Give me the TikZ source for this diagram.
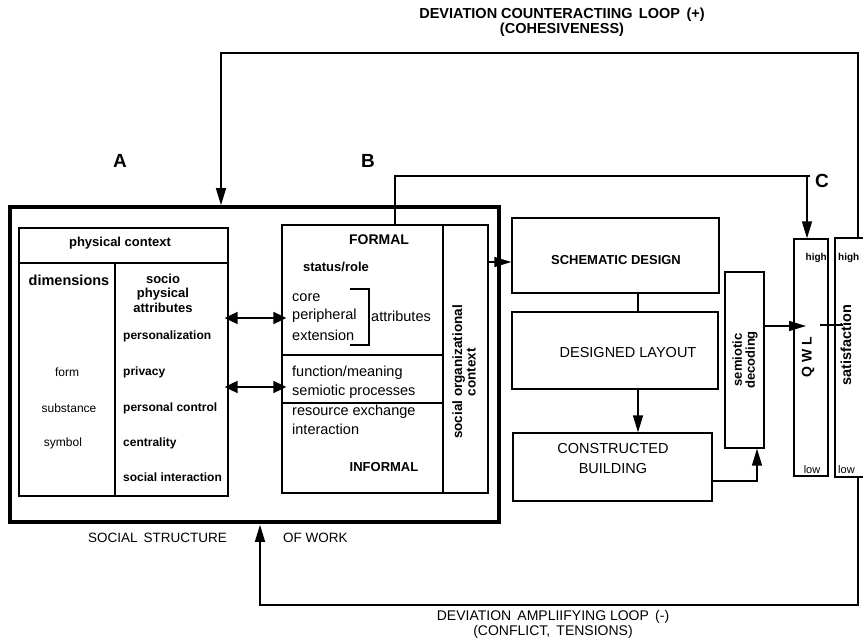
\documentclass[tikz,border=0pt]{standalone}
\usepackage{fontspec}
\setmainfont{Liberation Sans}
\usetikzlibrary{arrows.meta}

\begin{document}
\begin{tikzpicture}[x=1pt,y=-1pt,
  box/.style={draw, line width=1.3pt, rectangle, inner sep=0pt},
  thickbox/.style={draw, line width=3.6pt, rectangle, inner sep=0pt},
  conn/.style={line width=1.4pt},
  tip/.style={conn, -{Triangle[length=17pt,width=10pt]}},
  dbl/.style={line width=1.8pt,
    {Triangle[length=13pt,width=12pt]}-{Triangle[length=13pt,width=12pt]}},
  txt/.style={inner sep=0pt, font=\fontsize{#1}{#1}\selectfont},
  btxt/.style={inner sep=0pt, font=\fontsize{#1}{#1}\selectfont\bfseries},
  vtxt/.style={inner sep=0pt, rotate=90, align=center,
    font=\fontsize{#1}{#1}\selectfont\bfseries},
]
\useasboundingbox (0,0) rectangle (863,643);
\clip (0,0) rectangle (863,643);

% ---------------- boxes ----------------
\node[thickbox, minimum width=489pt, minimum height=315pt] (outer) at (254.5,364.5) {};
\node[box, minimum width=209pt, minimum height=268pt] (physA) at (123.5,362) {};
\node[box, minimum width=206pt, minimum height=268pt] (boxB) at (385,359) {};
\node[box, minimum width=207pt, minimum height=75pt] (schem) at (615.5,255.5) {};
\node[box, minimum width=206pt, minimum height=77pt] (layout) at (615,350.5) {};
\node[box, minimum width=199pt, minimum height=68pt] (built) at (612.5,467) {};
\node[box, minimum width=39pt, minimum height=176pt] (semio) at (744.5,360) {};
\node[box, minimum width=34pt, minimum height=237pt] (qwl) at (811,357.5) {};
\node[box, minimum width=40pt, minimum height=239pt] (satis) at (855,357.5) {};

% ---------------- inner divisions ----------------
\draw[line width=1.2pt] (19,263) -- (228,263);
\draw[line width=1.2pt] (115,263) -- (115,496);
\draw[line width=1.2pt] (443,225) -- (443,493);
\draw[line width=1.2pt] (282,355) -- (443,355);
\draw[line width=1.2pt] (282,403) -- (443,403);
% bracket grouping the attributes
\draw[line width=1.3pt] (350,289) -- (369,289) -- (369,345) -- (350,345);

% ---------------- texts: physical context ----------------
\node[btxt=13] (tPC) at (120,243) {physical context};
\node[btxt=14.5] (tDim) at (69,280) {dimensions};
\node[btxt=13, align=center, font=\fontsize{13}{14.5}\selectfont\bfseries] (tSoc) at (163,293)
  {socio\\physical\\attributes};
\node[btxt=12, anchor=west] (tPers) at (123,336) {personalization};
\node[btxt=12, anchor=west] (tPriv) at (123,372) {privacy};
\node[btxt=12, anchor=west] (tCtrl) at (123,408) {personal control};
\node[btxt=12, anchor=west] (tCent) at (123,443) {centrality};
\node[btxt=12, anchor=west] (tInt) at (123,477) {social interaction};
\node[txt=12] (tForm) at (67,372) {form};
\node[txt=12] (tSubs) at (69,408) {substance};
\node[txt=12] (tSym) at (63,443) {symbol};

% ---------------- texts: social organizational context ----------------
\node[btxt=14] (tFormal) at (379,240) {FORMAL};
\node[btxt=13] (tStat) at (336,267) {status/role};
\node[txt=14.5, anchor=west] (tCore) at (292,298) {core};
\node[txt=14.5, anchor=west] (tPer) at (292,316) {peripheral};
\node[txt=14.5, anchor=west] (tExt) at (292,335) {extension};
\node[txt=14.5, anchor=west] (tAttr) at (371,316) {attributes};
\node[txt=14.5, anchor=west] (tFun) at (292,373) {function/meaning};
\node[txt=14.5, anchor=west] (tSem) at (292,392) {semiotic processes};
\node[txt=14.5, anchor=west] (tRes) at (292,412) {resource exchange};
\node[txt=14.5, anchor=west] (tInter) at (292,429) {interaction};
\node[btxt=13] (tInf) at (384,467) {INFORMAL};
\node[vtxt=13.5] (tSoo) at (464,372) {social organizational\\context};

% ---------------- texts: design chain ----------------
\node[btxt=13] (tSchem) at (616,260) {SCHEMATIC DESIGN};
\node[txt=14.5] (tLay) at (628,353) {DESIGNED LAYOUT};
\node[txt=14.5, align=center, font=\fontsize{14.5}{20}\selectfont] (tBuilt) at (613,459)
  {CONSTRUCTED\\BUILDING};
\node[vtxt=13] (tSemio) at (745,360) {semiotic\\decoding};
\node[vtxt=14] (tQWL) at (808,357) {Q W L};
\node[vtxt=14.5] (tSat) at (846,345) {satisfaction};
\node[btxt=10, anchor=east] (tQh) at (827,258) {high};
\node[txt=11] (tQl) at (812,470) {low};
\node[btxt=10, anchor=west] (tSh) at (838,258) {high};
\node[txt=11, anchor=west] (tSl) at (838,470) {low};

% ---------------- section letters and loop labels ----------------
\node[btxt=19] (lA) at (120,161) {A};
\node[btxt=19] (lB) at (368,161) {B};
\node[btxt=19] (lC) at (822,181) {C};
\node[btxt=14.5, align=center, font=\fontsize{14.5}{15.5}\selectfont\bfseries] (tTop) at (562,22)
  {DEVIATION COUNTERACTIING\, LOOP\, (+)\\(COHESIVENESS)};
\node[txt=14, align=center, font=\fontsize{14}{15}\selectfont] (tBot) at (553,624)
  {DEVIATION\, AMPLIIFYING LOOP\, (-)\\(CONFLICT,\, TENSIONS)};
\node[txt=13.5, anchor=east] (tSS) at (227,538) {SOCIAL\, STRUCTURE};
\node[txt=13.5, anchor=west] (tOW) at (283,538) {OF WORK};

% ---------------- connectors ----------------
\coordinate (topR) at (858,53);
\coordinate (topL) at (221,53);
\coordinate (botR) at (858,605);
\coordinate (botL) at (260,605);
\coordinate (cL) at (395,176);
\coordinate (cR) at (807,176);
\coordinate (sd) at (0,262);
\coordinate (mx) at (638,0);
\coordinate (bs) at (757,481);
\coordinate (qa) at (806,326);
\coordinate (qb) at (820,325);
\coordinate (qc) at (843,325);
\coordinate (d1) at (0,318);
\coordinate (d2) at (0,387);

% cohesiveness loop back into the social structure of work
\draw[tip] (satis.north -| topR) -- (topR) -- (topL) -- (topL |- outer.north);
% conflict loop back into the social structure of work
\draw[tip] (satis.south -| botR) -- (botR) -- (botL) -- ([yshift=-1pt]botL |- outer.south);
% formal structure feeding quality of working life
\draw[tip] (boxB.north -| cL) -- (cL) -- (cR) -- (qwl.north -| cR);
\draw[conn] (cR) -- ++(3,0);
% social structure into design
\draw[tip] (boxB.east |- sd) -- (schem.west |- sd);
\draw[conn] (schem.south -| mx) -- (layout.north -| mx);
\draw[tip] (layout.south -| mx) -- (built.north -| mx);
\draw[tip] (built.east |- bs) -- (bs) -- (semio.south -| bs);
\draw[tip] (semio.east |- qa) -- (qa);
\draw[conn] (qb) -- (qc);
% physical attributes linked with the organizational attributes
\draw[dbl, shorten <=-4pt, shorten >=-5pt] (physA.east |- d1) -- (boxB.west |- d1);
\draw[dbl, shorten <=-4pt, shorten >=-5pt] (physA.east |- d2) -- (boxB.west |- d2);
\end{tikzpicture}
\end{document}
